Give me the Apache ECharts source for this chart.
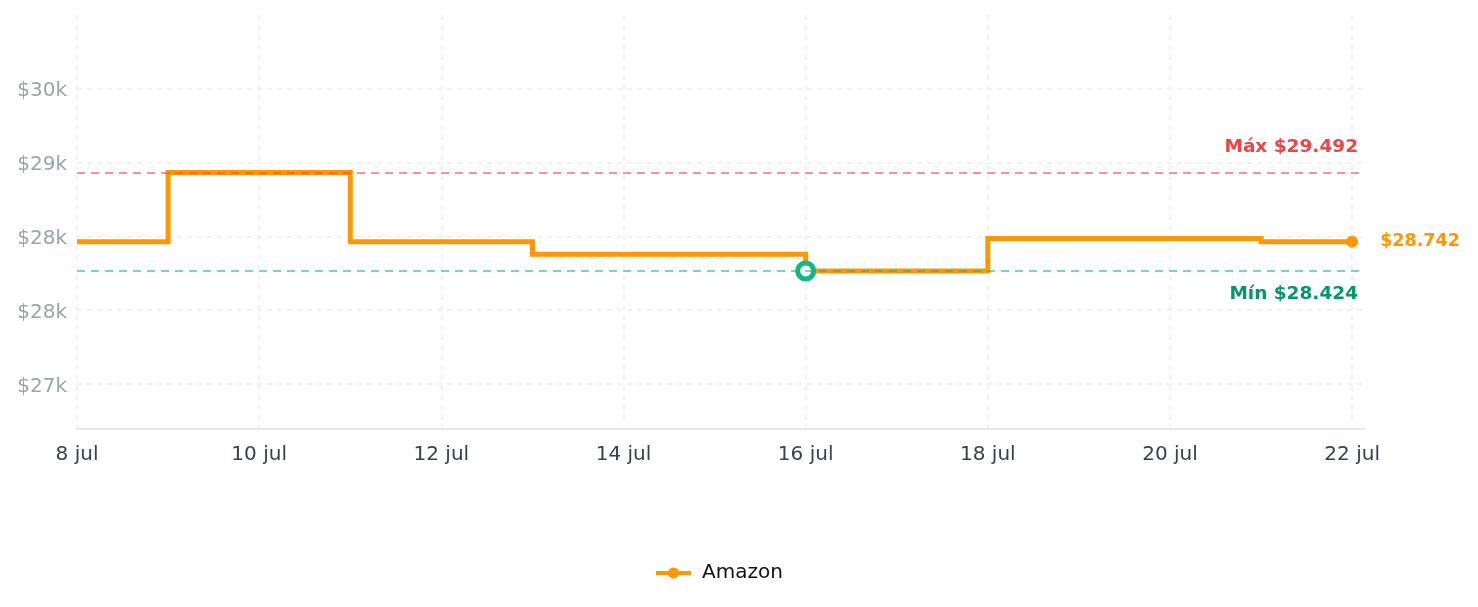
<!DOCTYPE html>
<html>
<head>
<meta charset="utf-8">
<title>Historial de precio</title>
<script src="https://cdn.jsdelivr.net/npm/echarts@6/dist/echarts.min.js"></script>
<style>
  html, body { margin: 0; padding: 0; background: #fff; }
  #chart { width: 1478px; height: 607px; }
</style>
</head>
<body>
<div id="chart"></div>
<script>
// días de julio y precio de Amazon de cada día
var days = [8, 9, 10, 11, 12, 13, 14, 15, 16, 17, 18, 19, 20, 21, 22]
var prices = [28742, 29492, 29492, 28742, 28742, 28605, 28605, 28605, 28424, 28424, 28775, 28775, 28775, 28742, 28742]
var monthLabel = 'jul'
var xTicks = [8, 10, 12, 14, 16, 18, 20, 22]
var yTicks = [27200, 28000, 28800, 29600, 30400]
var seriesName = 'Amazon'

var FONT = 'DejaVu Sans'
var ORANGE = '#ff9800'

function money(v) {
  return '$' + String(v).replace(/\B(?=(\d{3})+(?!\d))/g, '.')
}

var maxVal = Math.max.apply(null, prices)
var minVal = Math.min.apply(null, prices)
var minIdx = prices.indexOf(minVal)
var lastIdx = prices.length - 1

var seriesData = days.map(function (d, i) {
  var item = { value: [d, prices[i]], symbol: 'none' }
  if (i === minIdx) {
    item = {
      value: [d, prices[i]],
      symbol: 'circle',
      symbolSize: 16,
      itemStyle: { color: '#fff', borderColor: '#10b981', borderWidth: 5 }
    }
  } else if (i === lastIdx) {
    item = {
      value: [d, prices[i]],
      symbol: 'circle',
      symbolSize: 12,
      itemStyle: { color: ORANGE },
      label: {
        show: true,
        position: 'right',
        distance: 22,
        formatter: function (p) { return money(p.value[1]) },
        color: ORANGE,
        fontFamily: FONT,
        fontWeight: 'bold',
        fontSize: 17.5
      }
    }
  }
  return item
})

var chart = echarts.init(document.getElementById('chart'))
chart.setOption({
  animation: false,
  textStyle: { fontFamily: FONT },
  grid: { left: 77, right: 114, top: 15, bottom: 178 },
  legend: {
    bottom: 19,
    left: 649,
    itemWidth: 35,
    itemHeight: 14,
    data: [seriesName],
    lineStyle: { width: 4 },
    textStyle: { fontSize: 20, color: '#111', fontFamily: FONT, padding: [0, 0, 0, 6] }
  },
  xAxis: {
    type: 'value',
    min: 8,
    max: 22.13,
    interval: 2,
    axisLine: { lineStyle: { color: '#e5e7eb', width: 2 } },
    axisTick: { show: false, customValues: xTicks },
    axisLabel: {
      customValues: xTicks,
      formatter: function (v) { return '{v|' + v + ' ' + monthLabel + '}' },
      rich: { v: { color: '#374151', fontSize: 20, fontFamily: FONT, padding: [4, 0, 0, 0] } },
      color: '#374151',
      fontSize: 20,
      margin: 12,
      fontFamily: FONT
    },
    splitLine: { show: true, lineStyle: { color: '#eeeeee', type: [5, 5], width: 1.5 } }
  },
  yAxis: {
    type: 'value',
    min: 26710,
    max: 31200,
    axisLine: { show: false },
    axisTick: { show: false, customValues: yTicks },
    axisLabel: {
      customValues: yTicks,
      formatter: function (v) { return '{v|$' + Math.floor(v / 1000) + 'k}' },
      rich: { v: { color: '#9ca3af', fontSize: 20, fontFamily: FONT, padding: [5, 0, 0, 0] } },
      color: '#9ca3af',
      fontSize: 20,
      margin: 10,
      fontFamily: FONT
    },
    splitLine: { show: true, lineStyle: { color: '#eeeeee', type: [5, 5], width: 1.5 } }
  },
  series: [{
    name: seriesName,
    type: 'line',
    step: 'end',
    data: seriesData,
    symbol: 'circle',
    symbolSize: 12,
    showSymbol: true,
    color: ORANGE,
    lineStyle: { color: ORANGE, width: 5, join: 'miter' },
    itemStyle: { color: ORANGE },
    markLine: {
      silent: true,
      symbol: ['none', 'none'],
      data: [
        {
          yAxis: maxVal,
          lineStyle: { color: 'rgba(239,68,68,0.75)', type: [8, 6], width: 1.5 },
          label: {
            position: 'insideEndTop',
            distance: [6, 16],
            formatter: 'Máx ' + money(maxVal),
            color: '#ef4444',
            fontWeight: 'bold',
            fontSize: 18.5,
            fontFamily: FONT
          }
        },
        {
          yAxis: minVal,
          lineStyle: { color: 'rgba(16,185,129,0.75)', type: [8, 6], width: 1.5 },
          label: {
            position: 'insideEndBottom',
            distance: [6, 14],
            formatter: 'Mín ' + money(minVal),
            color: '#059669',
            fontWeight: 'bold',
            fontSize: 18.5,
            fontFamily: FONT
          }
        }
      ]
    }
  }]
})
</script>
</body>
</html>
